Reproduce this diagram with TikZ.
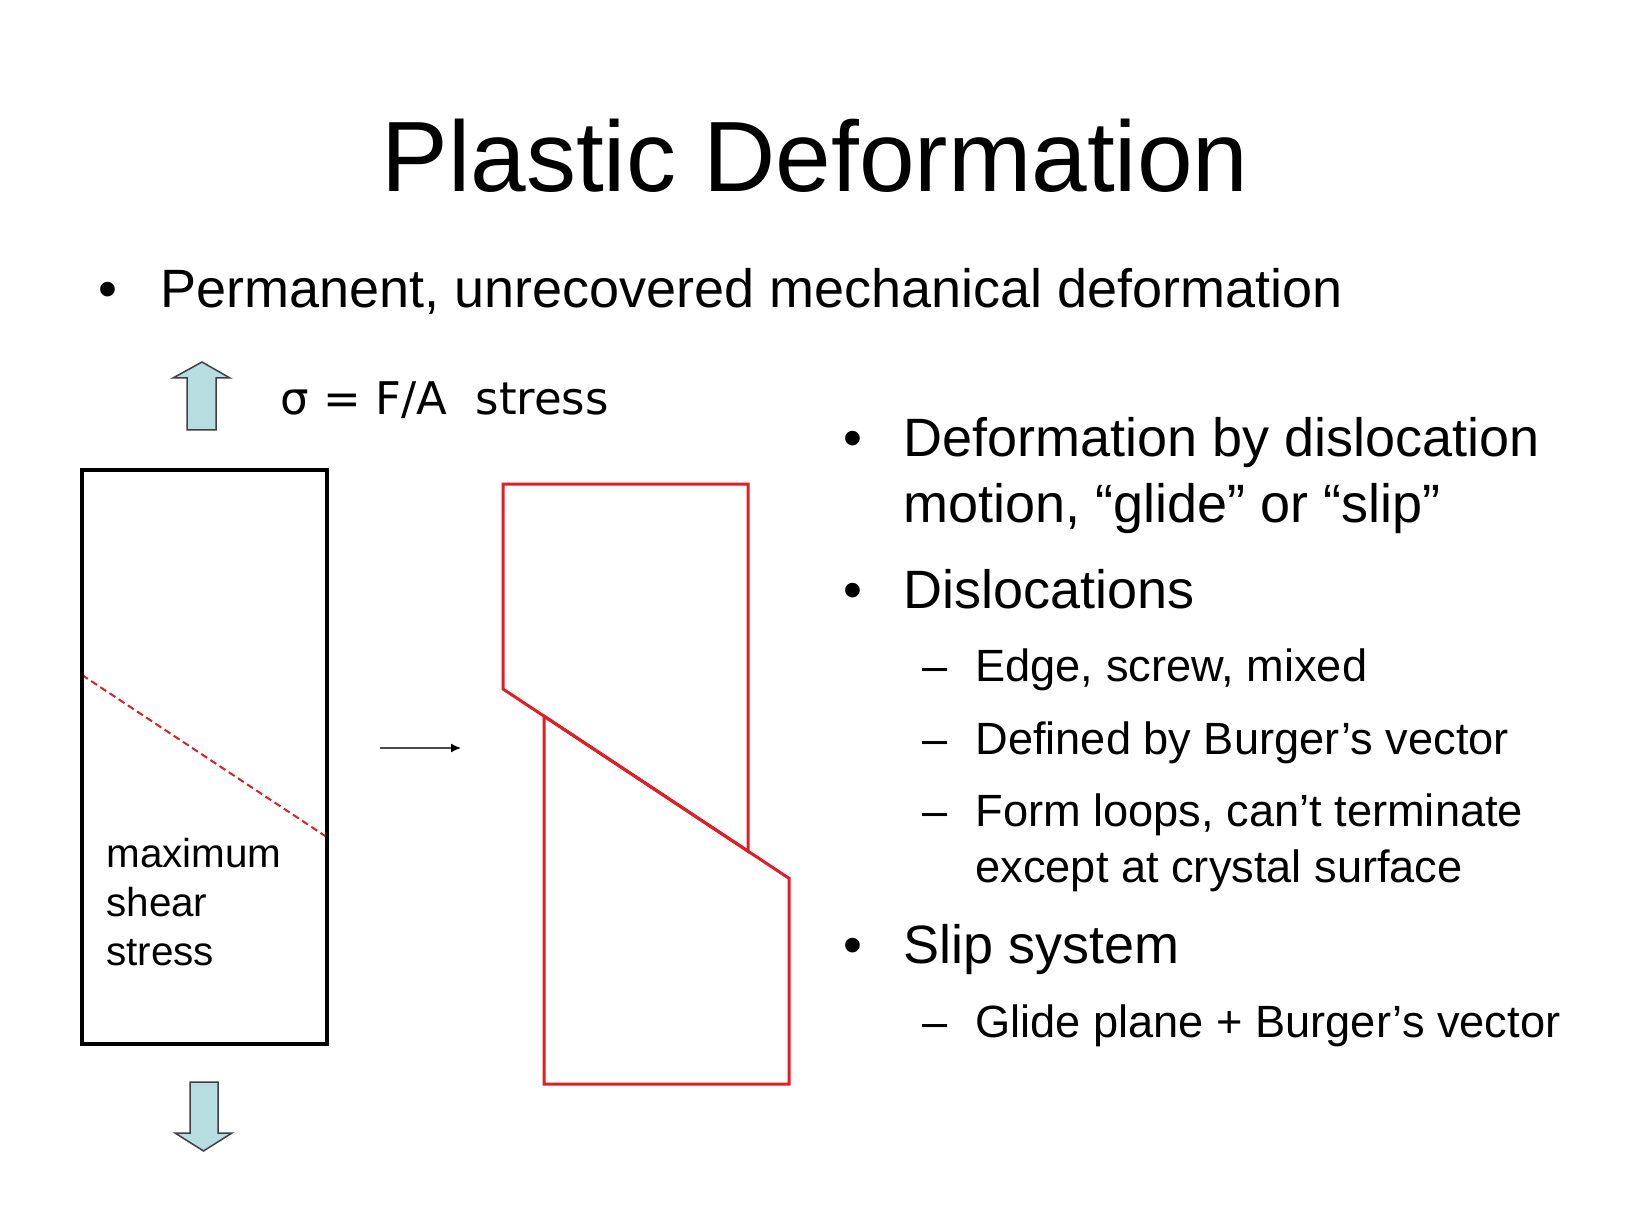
\documentclass[tikz,border=0pt]{standalone}
\usepackage{fontspec}
\setmainfont{Liberation Sans}
\newfontfamily\stressfont{DejaVu Sans}
\usetikzlibrary{arrows.meta}

\definecolor{slipred}{RGB}{225,30,35}
\definecolor{arrowfill}{RGB}{183,221,225}
\definecolor{arrowline}{RGB}{64,64,64}

\begin{document}
\begin{tikzpicture}[x=0.5pt,y=0.5pt,
  txt/.style={anchor=base west, inner sep=0pt},
  bigtxt/.style={txt, align=left, font=\fontsize{27}{33}\selectfont},
  subtxt/.style={txt, align=left, font=\fontsize{22.6}{28}\selectfont},
  bulletdot/.style={anchor=base, inner sep=0pt, font=\fontsize{27}{33}\selectfont},
  subdash/.style={anchor=base, inner sep=0pt, font=\fontsize{22.6}{28}\selectfont},
  blockarrow/.style={draw=arrowline, line width=0.75pt, fill=arrowfill, line join=miter},
  slipline/.style={draw=slipred, line width=1.5pt, line join=miter}]
\useasboundingbox (0,0) rectangle (1640,-1230);
% title and first bullet
\node[anchor=base, inner sep=0pt, font=\fontsize{50}{60}\selectfont] (title) at (815,-192) {Plastic Deformation};
\node[bulletdot] (b0) at (107.7,-307.5) {•};
\node[bigtxt] (t0) at (160,-307.5) {Permanent, unrecovered mechanical deformation};
% stress arrows
\draw[blockarrow] (187,-430) -- (187,-378) -- (173,-378) -- (202,-362) -- (230,-378) -- (216,-378) -- (216,-430) -- cycle;
\draw[blockarrow] (190,-1082) -- (218,-1082) -- (218,-1133) -- (232,-1133) -- (203.5,-1151) -- (175,-1133) -- (190,-1133) -- cycle;
\node[txt, font=\stressfont\fontsize{22.5}{27}\selectfont] (sigma) at (280,-415) {σ = F/A\ \ stress};
% crystal before slip (multi-line nodes sit on their last line)
\draw[slipred, line width=1pt, dash pattern=on 3.5pt off 2pt] (82,-675) -- (327,-837.2);
\draw[line width=2pt] (82,-470) rectangle (327,-1044);
\node[txt, align=left, font=\fontsize{20.2}{24.5}\selectfont] (maxshear) at (106,-965) {maximum\\shear\\stress};
% arrow
\coordinate (before) at (380,-748);
\coordinate (after) at (461,-748);
\draw[black!70, line width=0.75pt, -{Latex[length=5pt,width=4.5pt,black]}] (before) -- (after);
% crystal after slip
\draw[slipline] (503,-689) -- (503,-484) -- (748,-484) -- (748,-851.2) -- cycle;
\draw[slipline] (544,-716.1) -- (544,-1084) -- (789,-1084) -- (789,-878.3) -- cycle;
% right column
\node[bulletdot] (b1) at (852.5,-457) {•};
\node[bigtxt] (t1) at (902.7,-523) {Deformation by dislocation\\motion, “glide” or “slip”};
\node[bulletdot] (b2) at (852.5,-608) {•};
\node[bigtxt] (t2) at (902.7,-608) {Dislocations};
\node[subdash] (d1) at (935,-681) {–};
\node[subtxt] (s1) at (975,-681) {Edge, screw, mixed};
\node[subdash] (d2) at (935,-754) {–};
\node[subtxt] (s2) at (975,-754) {Defined by Burger’s vector};
\node[subdash] (d3) at (935,-826) {–};
\node[subtxt] (s3) at (975,-882) {Form loops, can’t terminate\\except at crystal surface};
\node[bulletdot] (b3) at (852.5,-963) {•};
\node[bigtxt] (t3) at (902.7,-963) {Slip system};
\node[subdash] (d4) at (935,-1037.5) {–};
\node[subtxt] (s4) at (975,-1037.5) {Glide plane + Burger’s vector};
\end{tikzpicture}
\end{document}
